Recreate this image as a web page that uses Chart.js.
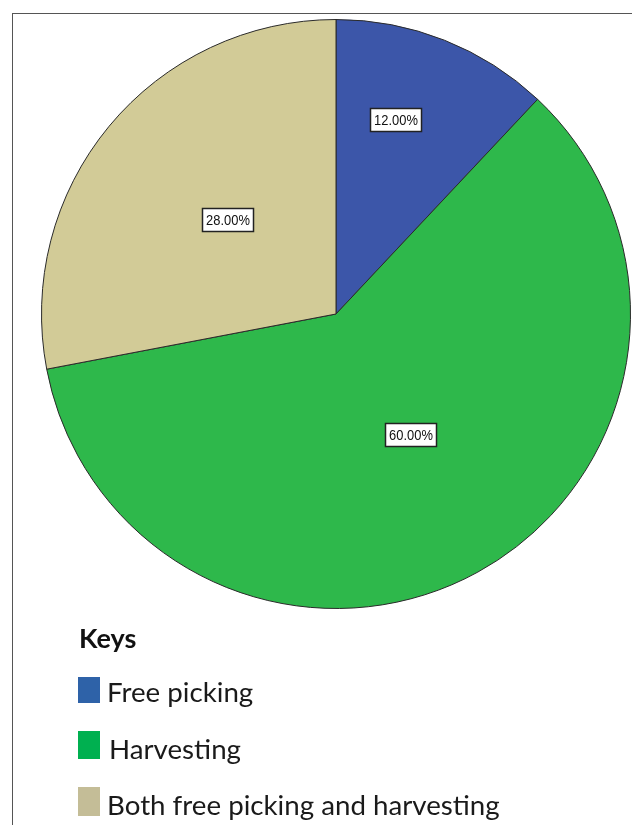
<!DOCTYPE html>
<html>
<head>
<meta charset="utf-8">
<script src="https://cdn.jsdelivr.net/npm/chart.js@4"></script>
<style>
  html, body { margin: 0; padding: 0; background: #fff; }
  #wrap { position: relative; width: 632px; height: 825px; overflow: hidden; }
  #frame { position: absolute; left: 12px; top: 13px; right: 0; bottom: -5px;
           border-left: 1.5px solid #555; border-top: 1.5px solid #555; }
  canvas { position: absolute; left: 0; top: 0; }
  .keys { position: absolute; left: 0; top: 0; font-family: Lato, "Open Sans", sans-serif; color: #111; }
  .keys .title { position: absolute; left: 79px; top: 624px; font-weight: bold; font-size: 27px; line-height: 27px; white-space: nowrap; }
  .keys .sw { position: absolute; left: 78px; width: 22px; }
  .keys .txt { position: absolute; white-space: nowrap; font-size: 27.7px; line-height: 27.7px; color: #1a1a1a; }
</style>
</head>
<body>
<div id="wrap">
  <div id="frame"></div>
  <canvas id="pie" width="632" height="825"></canvas>
  <div class="keys" id="keys"><div class="title">Keys</div></div>
</div>
<script>
// Slice data (clockwise from 12 o'clock)
const categories = ["Free picking", "Harvesting", "Both free picking and harvesting"]
const percents = [12, 60, 28]
const sliceColors = ["#3c56a9", "#2eb84b", "#d2cb97"]
// Key swatches (drawn in a different palette in the original)
const keyColors = ["#2e62a8", "#00b050", "#c4bd97"]
const swatchTops = [677, 731, 787]
const swatchHeights = [26, 28, 29]
const textTops = [678, 735, 791]
const textLefts = [107, 109, 107]
// Where each percent box sits: fraction of the radius, small angle nudge (degrees)
const labelRadius = [0.69, 0.48, 0.49]
const labelNudge = [-4.5, -3, 1.5]

const labelBoxes = {
  id: "labelBoxes",
  afterDatasetsDraw(chart) {
    const ctx = chart.ctx
    const arcs = chart.getDatasetMeta(0).data
    const squeeze = 0.86 // the original labels use a condensed face
    ctx.save()
    ctx.font = "15px Arial, 'Liberation Sans', sans-serif"
    ctx.textAlign = "center"
    ctx.textBaseline = "middle"
    arcs.forEach((arc, i) => {
      const p = arc.getProps(["x", "y", "startAngle", "endAngle", "outerRadius"], true)
      const mid = (p.startAngle + p.endAngle) / 2 + labelNudge[i] * Math.PI / 180
      const r = p.outerRadius * labelRadius[i]
      const cx = p.x + Math.cos(mid) * r
      const cy = p.y + Math.sin(mid) * r
      const text = percents[i].toFixed(2) + "%"
      const w = Math.round(ctx.measureText(text).width * squeeze) + 7
      const h = 23
      const bx = Math.round(cx - w / 2) + 0.5
      const by = Math.round(cy - h / 2) + 0.5
      ctx.fillStyle = "#ffffff"
      ctx.fillRect(bx, by, w, h)
      ctx.strokeStyle = "#222"
      ctx.lineWidth = 1.5
      ctx.strokeRect(bx, by, w, h)
      ctx.save()
      ctx.translate(bx + w / 2, by + h / 2 + 1)
      ctx.scale(squeeze, 1)
      ctx.fillStyle = "#111"
      ctx.fillText(text, 0, 0)
      ctx.restore()
    })
    ctx.restore()
  },
}

new Chart(document.getElementById("pie"), {
  type: "pie",
  data: {
    labels: categories,
    datasets: [
      {
        data: percents,
        backgroundColor: sliceColors,
        borderColor: "#2a2a2a",
        borderWidth: 1,
        hoverBorderWidth: 1,
        hoverOffset: 0,
      },
    ],
  },
  options: {
    responsive: false,
    animation: false,
    events: [],
    layout: { padding: { left: 40, right: 0, top: 19, bottom: 216 } },
    plugins: { legend: { display: false }, tooltip: { enabled: false } },
  },
  plugins: [labelBoxes],
})

// Keys block below the pie
const keys = document.getElementById("keys")
categories.forEach((name, i) => {
  const sw = document.createElement("div")
  sw.className = "sw"
  sw.style.top = swatchTops[i] + "px"
  sw.style.height = swatchHeights[i] + "px"
  sw.style.background = keyColors[i]
  keys.appendChild(sw)

  const txt = document.createElement("div")
  txt.className = "txt"
  txt.style.top = textTops[i] + "px"
  txt.style.left = textLefts[i] + "px"
  txt.textContent = name
  keys.appendChild(txt)
})
</script>
</body>
</html>
